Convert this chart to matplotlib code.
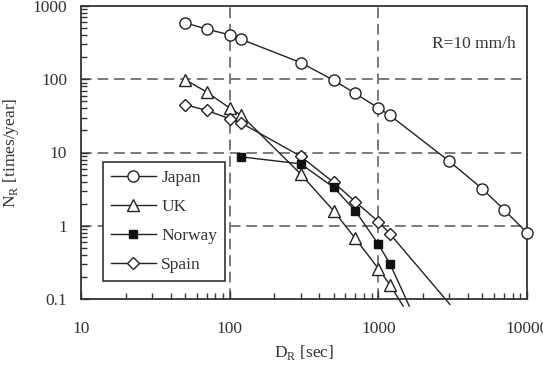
import matplotlib
matplotlib.use("Agg")
import matplotlib.pyplot as plt
from matplotlib.ticker import LogLocator, NullFormatter, FixedLocator, FixedFormatter

plt.rcParams['font.family'] = ['Liberation Serif', 'DejaVu Serif']
plt.rcParams['mathtext.fontset'] = 'custom'
plt.rcParams['mathtext.rm'] = 'Liberation Serif'

# ---- data ----
japan_d = [50, 70, 100, 120, 300, 500, 700, 1000, 1200, 3000, 5000, 7000, 10000]
japan_n = [590, 484, 404, 350, 169, 97, 64, 40.5, 32, 7.6, 3.2, 1.66, 0.8]

uk_d = [50, 70, 100, 120, 300, 500, 700, 1000, 1200]
uk_n = [99, 67, 40.5, 32, 5.1, 1.6, 0.67, 0.26, 0.155]
uk_tail_d = [1470]
uk_tail_n = [0.080]

norway_d = [120, 300, 500, 700, 1000, 1200]
norway_n = [8.7, 7.0, 3.35, 1.6, 0.56, 0.30]
norway_tail_d = [1615]
norway_tail_n = [0.080]

spain_d = [50, 70, 100, 120, 300, 500, 700, 1000, 1200]
spain_n = [45, 37.6, 28.9, 25.2, 8.9, 3.9, 2.13, 1.14, 0.77]
spain_tail_d = [3030]
spain_tail_n = [0.0845]

x_ticks = [10, 100, 1000, 10000]
x_tick_labels = ['10', '100', '1000', '10000']
y_ticks = [0.1, 1, 10, 100, 1000]
y_tick_labels = ['0.1', '1', '10', '100', '1000']

# ---- figure ----
fig = plt.figure(figsize=(5.43, 3.78), dpi=100)
ax = fig.add_axes([81 / 543, (378 - 299) / 378, 446 / 543, 293 / 378])
ax.set_xscale('log')
ax.set_yscale('log')
ax.set_xlim(10, 10000)
ax.set_ylim(0.1, 1000)

# grid
for gx in [100, 1000]:
    ax.axvline(gx, color='#7a7a7a', lw=1.4, dashes=(5.5, 3), zorder=1)
for gy in [1, 10, 100]:
    ax.axhline(gy, color='#7a7a7a', lw=1.4, dashes=(5.5, 3), zorder=1)

lc = '#222222'
lw = 1.0
# lines (including extrapolated tails)
ax.plot(japan_d, japan_n, color=lc, lw=lw, zorder=2, clip_on=False)
ax.plot(uk_d + uk_tail_d, uk_n + uk_tail_n, color=lc, lw=lw, zorder=2, clip_on=False)
ax.plot(norway_d + norway_tail_d, norway_n + norway_tail_n, color=lc, lw=lw, zorder=2, clip_on=False)
ax.plot(spain_d + spain_tail_d, spain_n + spain_tail_n, color=lc, lw=lw, zorder=2, clip_on=False)

# markers
ax.plot(japan_d, japan_n, ls='none', marker='o', ms=8, mfc='white', mec=lc, mew=1.0, zorder=3, clip_on=False)
ax.plot(uk_d, uk_n, ls='none', marker='^', ms=9, mfc='white', mec=lc, mew=1.0, zorder=3, clip_on=False)
ax.plot(norway_d, norway_n, ls='none', marker='s', ms=5.5, mfc='#111111', mec='#111111', mew=1.0, zorder=4, clip_on=False)
ax.plot(spain_d, spain_n, ls='none', marker='D', ms=6.5, mfc='white', mec=lc, mew=1.0, zorder=3, clip_on=False)

# legend proxies
h_j, = ax.plot([], [], color=lc, lw=lw, marker='o', ms=8, mfc='white', mec=lc)
h_u, = ax.plot([], [], color=lc, lw=lw, marker='^', ms=9, mfc='white', mec=lc)
h_n, = ax.plot([], [], color=lc, lw=lw, marker='s', ms=5.5, mfc='#111111', mec='#111111')
h_s, = ax.plot([], [], color=lc, lw=lw, marker='D', ms=6.5, mfc='white', mec=lc)
leg = ax.legend([h_j, h_u, h_n, h_s], ['Japan', 'UK', 'Norway', 'Spain'],
                loc='upper left', bbox_to_anchor=((103 - 81) / 446, (299 - 162) / 293),
                borderaxespad=0, fancybox=False, framealpha=1, edgecolor='#333333',
                handlelength=2.6, handletextpad=0.3, labelspacing=0.75,
                borderpad=0.45, prop={'family': 'Liberation Serif', 'size': 12.5})
leg.get_frame().set_linewidth(1.2)
for t in leg.get_texts():
    t.set_color('#333333')

# ticks
ax.xaxis.set_major_locator(FixedLocator(x_ticks))
ax.xaxis.set_major_formatter(FixedFormatter(x_tick_labels))
ax.yaxis.set_major_locator(FixedLocator(y_ticks))
ax.yaxis.set_major_formatter(FixedFormatter(y_tick_labels))
ax.xaxis.set_minor_locator(LogLocator(base=10, subs=range(2, 10)))
ax.yaxis.set_minor_locator(LogLocator(base=10, subs=range(2, 10)))
ax.xaxis.set_minor_formatter(NullFormatter())
ax.yaxis.set_minor_formatter(NullFormatter())
ax.tick_params(which='both', direction='in', top=False, right=False, color='#333333', width=1.0)
ax.tick_params(which='major', length=6)
ax.tick_params(which='minor', length=4)
ax.tick_params(axis='x', which='major', pad=16, labelsize=12.5, labelcolor='#333333')
ax.tick_params(axis='y', which='major', pad=10, labelsize=12.5, labelcolor='#333333')

for s in ax.spines.values():
    s.set_color('#333333')
    s.set_linewidth(1.3)

ax.set_xlabel(r'D$_{\mathregular{R}}$ [sec]', fontsize=12.5, color='#333333', labelpad=4)
ax.set_ylabel(r'N$_{\mathregular{R}}$ [times/year]', fontsize=12.5, color='#333333', labelpad=8)

ax.text(0.88, 0.87, 'R=10 mm/h', transform=ax.transAxes, ha='center', va='center',
        fontsize=12.5, color='#333333')

fig.savefig('out.png', dpi=100)
